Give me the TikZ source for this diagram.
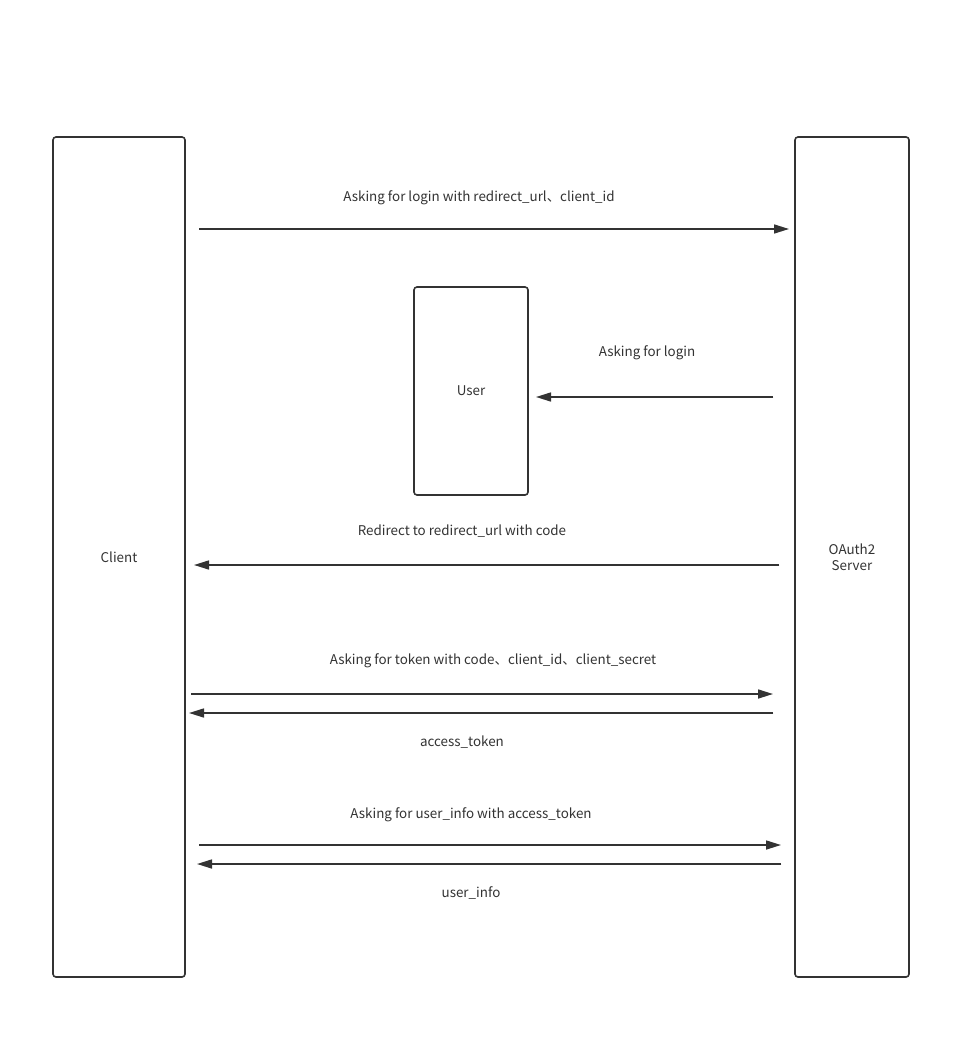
\documentclass[tikz,border=0pt]{standalone}
\usepackage{fontspec}
\setmainfont{Noto Sans CJK SC}
\usetikzlibrary{arrows.meta}
\definecolor{oaink}{RGB}{51,51,51}

\begin{document}
\begin{tikzpicture}[x=1pt, y=-1pt,
  font=\fontsize{13.4}{16}\selectfont,
  actor/.style={draw=oaink, line width=1.6pt, rounded corners=3pt, fill=white,
    inner sep=0pt, align=center, text=oaink},
  msg/.style={-{Triangle[length=15pt,width=9pt]}, draw=oaink, fill=oaink, line width=1.6pt},
  lbl/.style={text=oaink, inner sep=0pt}
]
\useasboundingbox[fill=white] (0,0) rectangle (972,1040);

\node[actor, minimum width=132pt, minimum height=840pt] (client) at (119,557) {Client};
\node[actor, minimum width=114pt, minimum height=840pt] (server) at (852,557) {OAuth2\\Server};
\node[actor, minimum width=114pt, minimum height=208pt] (user) at (471,391) {User};

% login request
\coordinate (r1s) at (199,229);
\coordinate (r1e) at (789,229);
\draw[msg] (r1s) -- (r1e);
\node[lbl] (t1) at (479,198) {Asking for login with redirect\_url、client\_id};

\coordinate (r2s) at (773,397);
\coordinate (r2e) at (536,397);
\draw[msg] (r2s) -- (r2e);
\node[lbl] (t2) at (647,353) {Asking for login};

\coordinate (r3s) at (779,565);
\coordinate (r3e) at (194,565);
\draw[msg] (r3s) -- (r3e);
\node[lbl] (t3) at (462,531) {Redirect to redirect\_url with code};

% token
\coordinate (r4s) at (191,694);
\coordinate (r4e) at (773,694);
\draw[msg] (r4s) -- (r4e);
\node[lbl] (t4) at (493,661) {Asking for token with code、client\_id、client\_secret};

\coordinate (r5s) at (773,713);
\coordinate (r5e) at (189,713);
\draw[msg] (r5s) -- (r5e);
\node[lbl] (t5) at (462,742) {access\_token};

% user info
\coordinate (r6s) at (199,845);
\coordinate (r6e) at (781,845);
\draw[msg] (r6s) -- (r6e);
\node[lbl] (t6) at (471,815) {Asking for user\_info with access\_token};

\coordinate (r7s) at (781,864);
\coordinate (r7e) at (197,864);
\draw[msg] (r7s) -- (r7e);
\node[lbl] (t7) at (471,893) {user\_info};
\end{tikzpicture}
\end{document}
